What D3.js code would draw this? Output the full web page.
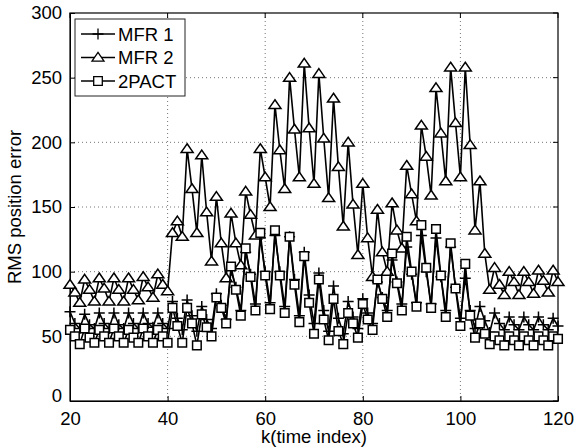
<!DOCTYPE html>
<html><head><meta charset="utf-8">
<script src="https://cdn.jsdelivr.net/npm/d3@7"></script>
<style>
body{margin:0;background:#fff;}
svg text{font-family:"Liberation Sans",Arial,Helvetica,sans-serif;fill:#000;}
</style></head>
<body><svg id="chart" width="588" height="447"></svg>
<script>
const timeIndex = d3.range(20, 121);
const seriesNames = ["MFR 1", "MFR 2", "2PACT"];
const xTicks = [20, 40, 60, 80, 100, 120];
const yTicks = [0, 50, 100, 150, 200, 250, 300];

const mfr1 = [69,60,56,67,59,56,68,60,56,68,59,56,68,60,56,68,60,57,68,60,
  56,77,64,55,78,66,54,73,63,56,83,74,63,101,88,70,115,98,75,126,
  100,76,128,100,73,127,94,66,115,82,60,99,70,54,89,64,52,77,65,56,
  79,68,60,92,80,70,109,92,75,119,98,76,128,100,75,126,96,70,119,88,
  64,95,70,56,73,62,53,68,60,55,65,59,55,65,59,55,65,59,55,64,58];
const mfr2 = [90,84,76,94,86,77,95,87,77,95,86,77,95,86,78,96,88,80,98,90,
  85,130,139,127,195,164,130,190,146,108,158,122,95,145,122,105,162,144,128,195,
  173,150,229,194,164,250,210,173,261,211,168,253,203,157,234,181,135,200,152,113,
  168,126,96,148,115,100,153,132,118,182,160,139,213,189,159,242,207,170,258,215,
  173,258,198,132,170,114,86,103,90,82,100,92,82,100,92,83,101,93,84,101,92];
const pact2 = [55,50,44,56,49,45,55,50,45,56,50,45,55,49,45,56,50,45,55,50,
  45,72,58,45,72,60,43,67,57,50,80,72,60,104,86,66,118,96,70,130,
  97,71,132,97,68,127,90,61,112,76,52,94,63,47,79,54,44,68,60,49,
  75,63,55,94,79,65,114,91,70,127,100,73,136,103,72,133,97,65,122,87,
  58,106,66,49,60,52,44,50,47,43,50,47,43,50,47,43,50,47,43,50,48];

const svg = d3.select("#chart");
const m = {left:70, right:558, top:13, bottom:401};
const x = d3.scaleLinear().domain([20,120]).range([m.left, m.right]);
const y = d3.scaleLinear().domain([0,300]).range([m.bottom, m.top]);
const FS = 18.5;

// grid
const g = svg.append("g");
g.selectAll(".gx").data(xTicks.slice(1,-1)).enter().append("line")
  .attr("x1", d=>x(d)).attr("x2", d=>x(d)).attr("y1", m.top).attr("y2", m.bottom)
  .attr("stroke","#666").attr("stroke-width",0.9).attr("stroke-dasharray","1,3");
g.selectAll(".gy").data(yTicks.slice(1,-1)).enter().append("line")
  .attr("x1", m.left).attr("x2", m.right).attr("y1", d=>y(d)).attr("y2", d=>y(d))
  .attr("stroke","#666").attr("stroke-width",0.9).attr("stroke-dasharray","1,3");

// axes
const xAxis = d3.axisBottom(x).tickValues(xTicks).tickSizeInner(-5).tickSizeOuter(0).tickPadding(8);
const yAxis = d3.axisLeft(y).tickValues(yTicks).tickSizeInner(-5).tickSizeOuter(0).tickPadding(8);
const xa = svg.append("g").attr("transform",`translate(0,${m.bottom})`).call(xAxis);
const ya = svg.append("g").attr("transform",`translate(${m.left},0)`).call(yAxis);
[xa, ya].forEach(a=>{
  a.selectAll("text").style("font-size",FS+"px").attr("fill","#000");
  a.selectAll("line").attr("stroke","#000");
  a.select(".domain").attr("stroke","#000");
});
xa.selectAll("text").attr("dy","0.85em");
ya.selectAll("text").filter(d=>d===0).attr("dy","0.05em");
// top & right ticks / box
svg.append("rect").attr("x",m.left).attr("y",m.top).attr("width",m.right-m.left).attr("height",m.bottom-m.top)
  .attr("fill","none").attr("stroke","#000").attr("stroke-width",1.2);
svg.append("g").selectAll("line").data(xTicks).enter().append("line")
  .attr("x1",d=>x(d)).attr("x2",d=>x(d)).attr("y1",m.top).attr("y2",m.top+5).attr("stroke","#000");
svg.append("g").selectAll("line").data(yTicks).enter().append("line")
  .attr("x1",m.right-5).attr("x2",m.right).attr("y1",d=>y(d)).attr("y2",d=>y(d)).attr("stroke","#000");

// labels
svg.append("text").attr("x",(m.left+m.right)/2).attr("y",443).attr("text-anchor","middle")
  .style("font-size",FS+"px").text("k(time index)");
svg.append("text").attr("transform",`translate(21,${(m.top+m.bottom)/2}) rotate(-90)`)
  .attr("text-anchor","middle").style("font-size",FS+"px").text("RMS position error");

// markers
function plusPath(s){return `M${-s},0H${s}M0,${-s}V${s}`;}
function triPath(s){return `M0,${-s*0.85}L${s},${s*0.6}L${-s},${s*0.6}Z`;}
function sqPath(s){return `M${-s},${-s}H${s}V${s}H${-s}Z`;}
const markers = [p=>plusPath(5.5), p=>triPath(6), p=>sqPath(4.3)];
const datasets = [mfr1, mfr2, pact2];

const line = d3.line().x((d,i)=>x(timeIndex[i])).y(d=>y(d));
datasets.forEach((ds,si)=>{
  const sg = svg.append("g");
  sg.append("path").attr("d", line(ds)).attr("fill","none").attr("stroke","#000").attr("stroke-width",1.6);
  sg.selectAll("path.mk").data(ds).enter().append("path").attr("class","mk")
    .attr("transform",(d,i)=>`translate(${x(timeIndex[i])},${y(d)})`)
    .attr("d", markers[si]()).attr("fill", si===0?"none":"#fff").attr("stroke","#000").attr("stroke-width",1.5);
});

// legend
const lg = svg.append("g");
lg.append("rect").attr("x",75).attr("y",19).attr("width",110).attr("height",77)
  .attr("fill","#fff").attr("stroke","#222").attr("stroke-width",1);
const ly = [34, 57.5, 81];
seriesNames.forEach((n,i)=>{
  lg.append("line").attr("x1",81).attr("x2",115).attr("y1",ly[i]).attr("y2",ly[i]).attr("stroke","#000").attr("stroke-width",1.3);
  lg.append("path").attr("transform",`translate(98,${ly[i]})`).attr("d",markers[i]())
    .attr("fill", i===0?"none":"#fff").attr("stroke","#000").attr("stroke-width",1.3);
  lg.append("text").attr("x",118).attr("y",ly[i]).attr("dy","0.36em").style("font-size",FS+"px").text(n);
});
</script></body></html>
